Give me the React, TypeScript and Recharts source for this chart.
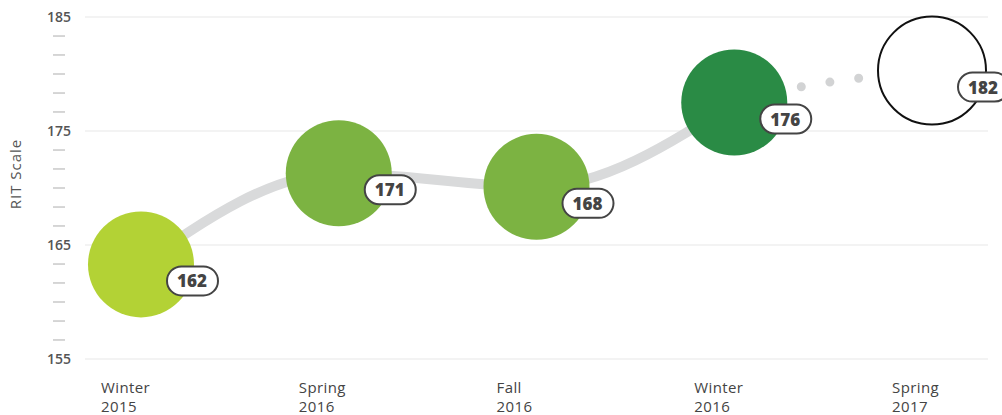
import { ComposedChart, Line, XAxis, YAxis, CartesianGrid, Label } from 'recharts'

const categories = ['Winter 2015', 'Spring 2016', 'Fall 2016', 'Winter 2016', 'Spring 2017']
const ritScores = [162, 171, 168, 176, 182]
// vertical position of each bubble, as drawn in the picture
const bubbleLevel = [163.3, 171.3, 170.1, 177.5, 180.3]
const bubbleColors = ['#b3d235', '#7cb342', '#7cb342', '#2a8b45', '#ffffff']
const projected = [false, false, false, false, true]

const majorTicks = [155, 165, 175, 185]
const yTicks = [
  155, 156.67, 158.33, 160, 161.67, 163.33,
  165, 166.67, 168.33, 170, 171.67, 173.33,
  175, 176.67, 178.33, 180, 181.67, 183.33,
  185,
]

const data = categories.map((name, i) => ({
  name,
  score: ritScores[i],
  level: bubbleLevel[i],
  solid: projected[i] ? null : bubbleLevel[i],
  color: bubbleColors[i],
  projected: projected[i],
}))

const FONT = '"Open Sans", sans-serif'

// dots only show on the projected stretch, the rest of the path is a gap
const projectionDash = '0 676 0 29 0 29 0 29 0 29 0 29 0 3000'

function YTick(props: any) {
  const { x, y, payload } = props
  const cx = x - 18
  if (majorTicks.includes(payload.value)) {
    return (
      <text x={cx} y={y} dy={5} textAnchor="middle" fill="#555" fontSize={14} fontWeight={600} fontFamily={FONT}>
        {payload.value}
      </text>
    )
  }
  return <line x1={cx - 6} x2={cx + 6} y1={y} y2={y} stroke="#c8c8c8" strokeWidth={1.5} />
}

function XTick(props: any) {
  const { x, y, payload } = props
  const [season, year] = String(payload.value).split(' ')
  return (
    <text x={x - 40} y={y} textAnchor="start" fill="#444" fontSize={15} letterSpacing={0.4} fontWeight={500} fontFamily={FONT}>
      <tspan x={x - 40} dy={26}>{season}</tspan>
      <tspan x={x - 40} dy={19}>{year}</tspan>
    </text>
  )
}

function AxisTitle(props: any) {
  const { viewBox } = props
  const x = viewBox.x + 21
  const y = viewBox.y + viewBox.height / 2 - 14
  return (
    <text x={x} y={y} transform={`rotate(-90 ${x} ${y})`} textAnchor="middle" fill="#555" fontSize={15} letterSpacing={1} fontWeight={500} fontFamily={FONT}>
      RIT Scale
    </text>
  )
}

function Bubble(props: any) {
  const { cx, cy, payload, index } = props
  if (cx == null || cy == null) return null
  const lx = cx + 51
  const ly = cy + 17
  return (
    <g key={`bubble-${index}`}>
      {payload.projected ? (
        <circle cx={cx} cy={cy} r={54} fill="#fff" stroke="#111" strokeWidth={2} />
      ) : (
        <circle cx={cx} cy={cy} r={53} fill={payload.color} />
      )}
      <rect x={lx - 25} y={ly - 15} width={51} height={29} rx={14.5} ry={14.5} fill="#fff" stroke="#444" strokeWidth={2} />
      <text x={lx} y={ly} dy={6} textAnchor="middle" fill="#444" fontSize={17} fontWeight={800} fontFamily={FONT}>
        {payload.score}
      </text>
    </g>
  )
}

export default function App() {
  return (
    <div style={{ position: 'absolute', left: 0, top: 0, fontFamily: FONT }}>
      <ComposedChart width={1002} height={415} data={data} margin={{ top: 17, right: 14, bottom: 0, left: 0 }}>
        <CartesianGrid vertical={false} stroke="#efefef" strokeWidth={1.5} horizontalValues={majorTicks} />
        <XAxis
          dataKey="name"
          axisLine={false}
          tickLine={false}
          height={56}
          padding={{ left: 56, right: 56 }}
          tick={<XTick />}
          interval={0}
        />
        <YAxis
          type="number"
          domain={[155, 185]}
          ticks={yTicks}
          interval={0}
          width={85}
          axisLine={false}
          tickLine={false}
          tick={<YTick />}
        >
          <Label content={<AxisTitle />} />
        </YAxis>
        <Line
          dataKey="level"
          type="monotoneX"
          stroke="#d2d3d4"
          strokeWidth={9}
          strokeLinecap="round"
          strokeDasharray={projectionDash}
          dot={false}
          activeDot={false}
          isAnimationActive={false}
        />
        <Line
          dataKey="solid"
          type="monotoneX"
          stroke="#d9dadb"
          strokeWidth={10}
          dot={false}
          activeDot={false}
          isAnimationActive={false}
        />
        <Line
          dataKey="level"
          stroke="none"
          dot={<Bubble />}
          activeDot={false}
          isAnimationActive={false}
        />
      </ComposedChart>
    </div>
  )
}
